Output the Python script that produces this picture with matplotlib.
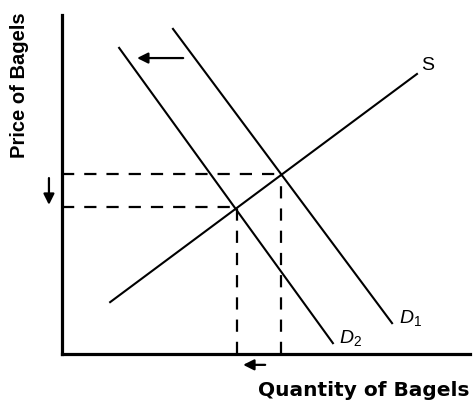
import matplotlib
matplotlib.use("Agg")
import matplotlib.pyplot as plt

plt.rcParams['mathtext.fontset'] = 'custom'
plt.rcParams['mathtext.rm'] = 'Liberation Sans'
plt.rcParams['mathtext.it'] = 'Liberation Sans:italic'

# curves as (quantity, price) end points
d1_q = [2.72, 8.09]
d1_p = [9.59, 0.91]
d2_q = [1.40, 6.64]
d2_p = [9.03, 0.32]
s_q = [1.18, 8.70]
s_p = [1.53, 8.26]

# equilibria: before (D1) and after (D2)
eq_q = [5.37, 4.29]
eq_p = [5.31, 4.34]

fig = plt.figure(figsize=(4.74, 4.01), dpi=100)
ax = fig.add_axes([62 / 474, 47 / 401, 408 / 474, 339 / 401])
ax.set_xlim(0, 10)
ax.set_ylim(0, 10)

for side in ['top', 'right']:
    ax.spines[side].set_visible(False)
for side in ['left', 'bottom']:
    ax.spines[side].set_linewidth(2.3)
ax.set_xticks([])
ax.set_yticks([])

ax.plot(d1_q, d1_p, color='black', lw=1.5)
ax.plot(d2_q, d2_p, color='black', lw=1.5)
ax.plot(s_q, s_p, color='black', lw=1.5)

dash = (0, (5.5, 4.5))
for q, p in zip(eq_q, eq_p):
    ax.plot([0, q], [p, p], color='black', lw=1.6, linestyle=dash)
    ax.plot([q, q], [0, p], color='black', lw=1.6, linestyle=dash)

ax.text(8.80, 8.50, 'S', fontsize=14, family='Liberation Sans', va='center', ha='left')
ax.text(8.25, 1.06, r'$D_1$', fontsize=14, va='center', ha='left')
ax.text(6.80, 0.47, r'$D_2$', fontsize=14, va='center', ha='left')

arrow = dict(arrowstyle='-|>', color='black', lw=1.6, mutation_scale=16, shrinkA=0, shrinkB=0)
ax.annotate('', xy=(1.84, 8.73), xytext=(2.97, 8.73), arrowprops=arrow)
ax.annotate('', xy=(-0.32, 4.40), xytext=(-0.32, 5.19), arrowprops=arrow,
            annotation_clip=False)
ax.annotate('', xy=(4.44, -0.32), xytext=(4.98, -0.32), arrowprops=arrow,
            annotation_clip=False)

fig.text(20 / 474, 1 - 85 / 401, 'Price of Bagels', rotation=90, fontsize=14.5,
         fontweight='bold', family='Liberation Sans', ha='center', va='center')
fig.text(470 / 474, 1 - 390 / 401, 'Quantity of Bagels', fontsize=14.5,
         fontweight='bold', family='DejaVu Sans', ha='right', va='center')

fig.savefig('out.png', dpi=100)
